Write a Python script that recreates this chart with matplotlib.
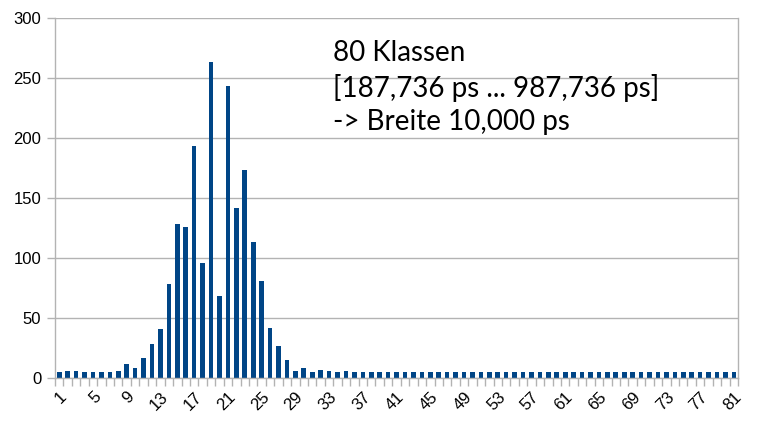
import numpy as np
import matplotlib
matplotlib.use("Agg")
import matplotlib.pyplot as plt

plt.rcParams["font.family"] = ["Liberation Sans", "DejaVu Sans"]

# class counts, classes 1..81
classes = np.arange(1, 82)
counts = [5, 6, 6, 5, 5, 5, 5, 6, 12, 8,
          17, 28, 41, 78, 128, 126, 193, 96, 263, 68,
          243, 142, 173, 113, 81, 42, 27, 15, 6, 8,
          5, 7, 6, 5, 6] + [5] * 46
tick_labels = [str(c) for c in range(1, 82, 4)]
y_ticks = [0, 50, 100, 150, 200, 250, 300]
note_lines = ["80 Klassen", "[187,736 ps ... 987,736 ps]", "-> Breite 10,000 ps"]

bar_color = "#004586"
grid_color = "#b3b3b3"

fig = plt.figure(figsize=(7.57, 4.26), dpi=100)
ax = fig.add_axes([0.0727, 0.1127, 0.9023, 0.845])

ax.bar(classes, counts, width=0.55, color=bar_color, zorder=3)

ax.set_xlim(0.5, 81.5)
ax.set_ylim(0, 300)
ax.set_yticks(y_ticks)
ax.yaxis.grid(True, color=grid_color, linewidth=1, zorder=0)

ax.set_xticks(range(1, 82, 4))
ax.set_xticklabels(tick_labels, rotation=45, ha="right", rotation_mode="anchor")
ax.set_xticks(np.arange(0.5, 82, 1), minor=True)
ax.tick_params(axis="x", which="major", length=0, pad=8, labelsize=12)
ax.tick_params(axis="x", which="minor", length=6, color=grid_color, width=1)
ax.tick_params(axis="y", length=6, color=grid_color, width=1, labelsize=12, pad=4)

ax.spines["top"].set_visible(False)
for side in ["left", "right", "bottom"]:
    ax.spines[side].set_color(grid_color)
    ax.spines[side].set_linewidth(1)
ax.spines["bottom"].set_zorder(4)

fig.text(0.44, 0.905, "\n".join(note_lines), fontsize=20, family="Lato",
         va="top", ha="left", linespacing=1.33)

fig.savefig("out.png", dpi=100)
